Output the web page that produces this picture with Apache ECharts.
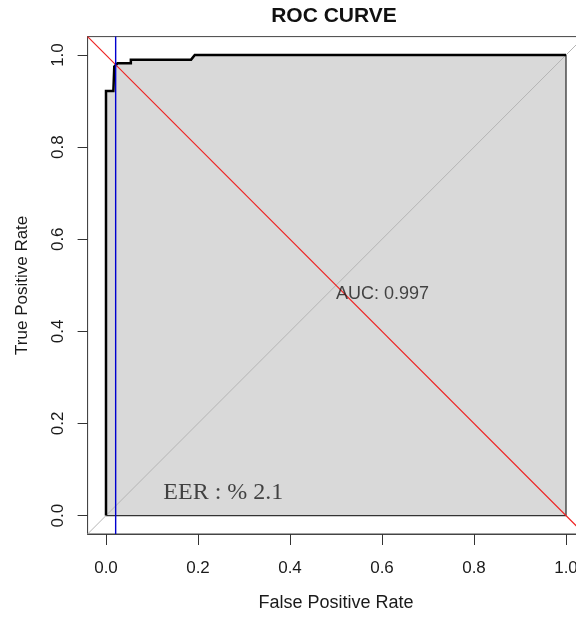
<!DOCTYPE html>
<html>
<head>
<meta charset="utf-8">
<script src="https://cdn.jsdelivr.net/npm/echarts@6/dist/echarts.min.js"></script>
<style>
  html, body { margin: 0; padding: 0; background: #ffffff; overflow: hidden; }
  /* the plot frame runs slightly past the right edge of the window */
  #chart { width: 600px; height: 617px; }
</style>
</head>
<body>
<div id="chart"></div>
<script>
// ROC curve points (false positive rate, true positive rate)
const fpr = [0, 0, 0.016, 0.018, 0.025, 0.054, 0.054, 0.185, 0.193, 1.0];
const tpr = [0, 0.922, 0.922, 0.975, 0.982, 0.982, 0.990, 0.990, 1.0, 1.0];

// summary statistics
const aucValue = 0.997;
const eerPercent = 2.1;
const eerRate = 0.021;

// axis ticks and padded range
const tickValues = [0, 0.2, 0.4, 0.6, 0.8, 1.0];
const axisMin = -0.04;
const axisMax = 1.04;

const curve = fpr.map((x, i) => [x, tpr[i]]);

const chart = echarts.init(document.getElementById('chart'), null, { renderer: 'canvas' });

const textColor = '#1a1a1a';
const sans = '"Liberation Sans", Arial, sans-serif';

chart.setOption({
  animation: false,
  backgroundColor: '#ffffff',
  title: {
    text: 'ROC CURVE',
    left: 334,
    top: 6,
    padding: 0,
    textAlign: 'center',
    textStyle: { fontFamily: sans, fontSize: 21, fontWeight: 'bold', color: '#111111' }
  },
  grid: {
    left: 87.6, top: 36.6, width: 496.8, height: 497.8,
    show: true, borderColor: '#444444', borderWidth: 1, backgroundColor: 'transparent'
  },
  xAxis: {
    type: 'value', min: axisMin, max: axisMax,
    name: 'False Positive Rate', nameLocation: 'middle', nameGap: 60,
    nameTextStyle: { fontFamily: sans, fontSize: 18, color: textColor },
    axisLine: { show: true, onZero: false, lineStyle: { color: '#444444', width: 1 } },
    axisTick: { show: true, inside: false, length: 11, customValues: tickValues,
      lineStyle: { color: '#333333', width: 1 } },
    axisLabel: { customValues: tickValues, margin: 26,
      formatter: v => v.toFixed(1),
      fontFamily: sans, fontSize: 17, color: textColor },
    splitLine: { show: false }
  },
  yAxis: {
    type: 'value', min: axisMin, max: axisMax,
    name: 'True Positive Rate', nameLocation: 'middle', nameGap: 57,
    nameTextStyle: { fontFamily: sans, fontSize: 17, color: textColor },
    axisLine: { show: true, onZero: false, lineStyle: { color: '#444444', width: 1 } },
    axisTick: { show: true, inside: false, length: 10, customValues: tickValues,
      lineStyle: { color: '#333333', width: 1 } },
    axisLabel: { customValues: tickValues, margin: 21, rotate: 90,
      formatter: v => v.toFixed(1),
      fontFamily: sans, fontSize: 17, color: textColor },
    splitLine: { show: false }
  },
  series: [
    {
      // shaded area under the curve
      name: 'area', type: 'line', data: curve, symbol: 'none',
      lineStyle: { width: 0, opacity: 0 },
      areaStyle: { color: '#d9d9d9', opacity: 1 },
      z: 1
    },
    {
      // outline of the shaded polygon along the base and right side
      name: 'border', type: 'line',
      data: [[fpr[0], 0], [1, 0], [1, 1]],
      symbol: 'none', lineStyle: { color: '#333333', width: 1.3 },
      z: 2
    },
    {
      // chance diagonal
      name: 'chance', type: 'line',
      data: [[axisMin, axisMin], [axisMax, axisMax]],
      symbol: 'none', lineStyle: { color: '#b5b5b5', width: 1 },
      z: 3
    },
    {
      name: 'roc', type: 'line', data: curve, symbol: 'none',
      lineStyle: { color: '#000000', width: 2.5, join: 'miter' },
      z: 4
    },
    {
      // equal error line: FPR = 1 - TPR
      name: 'eer-line', type: 'line',
      data: [[axisMin, 1 - axisMin], [axisMax, 1 - axisMax]],
      symbol: 'none', lineStyle: { color: '#ee2222', width: 1.1 },
      z: 5
    },
    {
      name: 'eer-threshold', type: 'line',
      data: [[eerRate, axisMin], [eerRate, axisMax]],
      symbol: 'none', lineStyle: { color: '#0000d0', width: 1.4 },
      z: 6
    },
    {
      name: 'auc-label', type: 'scatter', data: [[0.5, 0.5]], symbolSize: 0,
      label: {
        show: true, position: [0, 0], align: 'left', verticalAlign: 'top',
        formatter: () => 'AUC: ' + aucValue.toFixed(3),
        fontFamily: sans, fontSize: 18, color: textColor
      },
      z: 7
    },
    {
      name: 'eer-label', type: 'scatter', data: [[0.255, 0.05]], symbolSize: 0,
      label: {
        show: true, position: [0, 0], align: 'center', verticalAlign: 'middle',
        formatter: () => 'EER : % ' + eerPercent.toFixed(1),
        fontFamily: '"Liberation Serif", "Times New Roman", serif', fontSize: 24, color: '#1a1a1a'
      },
      z: 7
    }
  ]
});
</script>
</body>
</html>
